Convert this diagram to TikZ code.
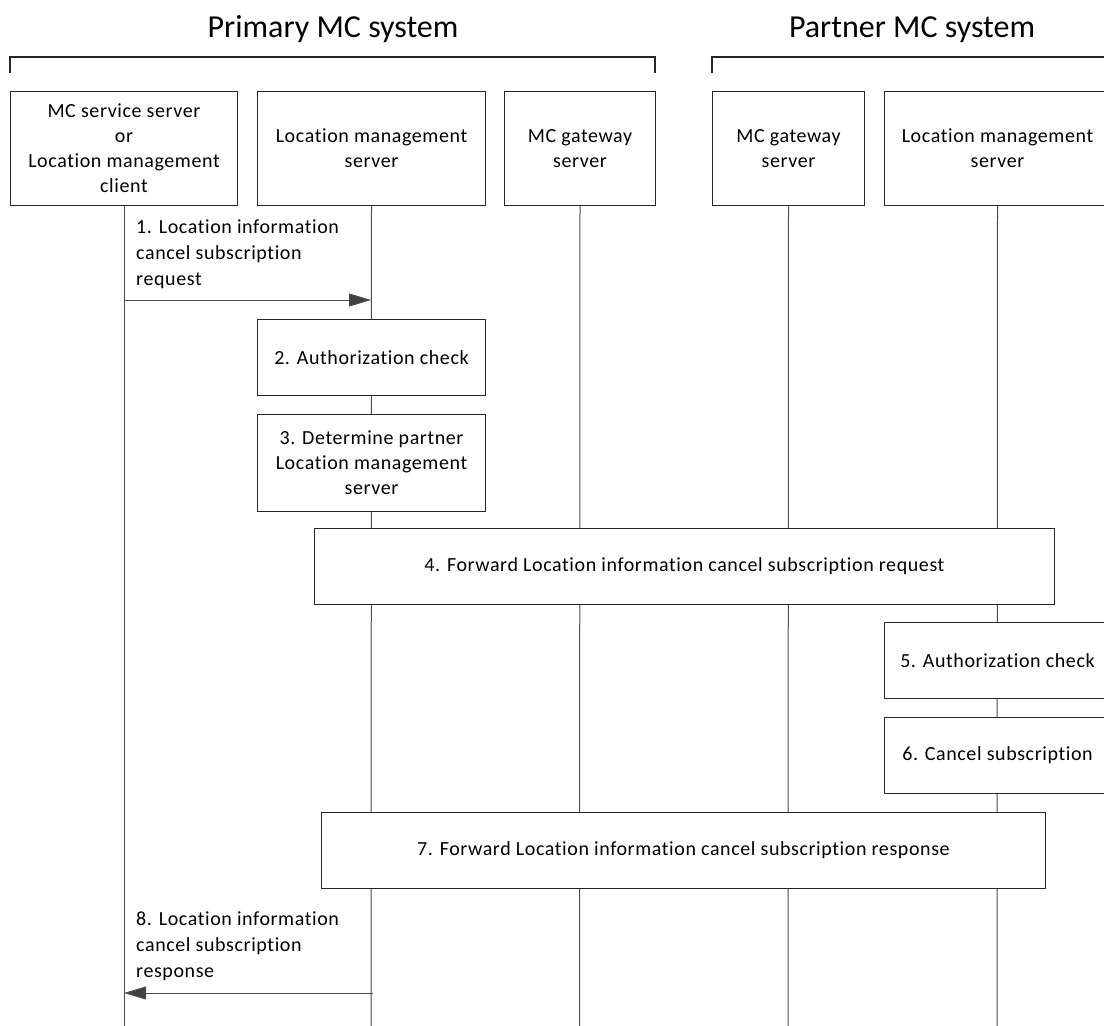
\documentclass[tikz,border=0pt]{standalone}
\usepackage{fontspec}
\setmainfont{Carlito}[Ligatures=NoCommon]
\newfontfamily\bodyfont{Carlito}[LetterSpace=3,Ligatures=NoCommon]
\usetikzlibrary{arrows.meta}
\begin{document}
\begin{tikzpicture}[x=1pt,y=-1pt,
  box/.style={draw=black!85,fill=white,line width=1pt,inner sep=0pt,align=center,
    font=\bodyfont\fontsize{20}{25}\selectfont},
  life/.style={draw=black!70,line width=1pt},
  msg/.style={draw=black!70,line width=1pt,-{Triangle[length=22pt,width=13pt,fill=black!75]}},
  lbl/.style={align=left,inner sep=0pt,anchor=west,font=\bodyfont\fontsize{20}{26}\selectfont},
  title/.style={inner sep=0pt,anchor=base,font=\fontsize{32}{36}\selectfont},
  brk/.style={draw=black!85,line width=1.2pt}]
\useasboundingbox (0,0) rectangle (1104,1026);
\clip (0,0) rectangle (1104,1026);
% titles and brackets
\node[title] (t1) at (333,37) {Primary MC system};
\node[title] (t2) at (912,37) {Partner MC system};
\coordinate (b1a) at (10,73); \coordinate (b1b) at (655,73);
\draw[brk] (b1a) -- ++(0,-16) -| (b1b);
\coordinate (b2a) at (712,73); \coordinate (b2b) at (1120,73);
\draw[brk] (b2a) -- ++(0,-16) -| (b2b);
% lifeline ends
\coordinate (Ae) at (124,1026);
\coordinate (Be) at (371,1026);
\coordinate (Ce) at (579.5,1026);
\coordinate (De) at (788,1026);
\coordinate (Ee) at (997,1026);
% header boxes
\node[box,anchor=north west,minimum width=227,minimum height=114] (A) at (10,91)
  {MC service server\\or\\Location management\\client};
\node[box,anchor=north west,minimum width=228,minimum height=114] (B) at (257,91)
  {Location management\\server};
\node[box,anchor=north west,minimum width=151,minimum height=114] (C) at (504,91)
  {MC gateway\\server};
\node[box,anchor=north west,minimum width=152,minimum height=114] (D) at (712,91)
  {MC gateway\\server};
\node[box,anchor=north west,minimum width=226,minimum height=114] (E) at (884,91)
  {Location management\\server};
% lifelines
\draw[life] (A.south) -- (Ae);
\draw[life] (B.south) -- (Be);
\draw[life] (C.south) -- (Ce);
\draw[life] (D.south) -- (De);
\draw[life] (E.south) -- (Ee);
% message 1
\coordinate (m1a) at (124,300); \coordinate (m1b) at (371,300);
\draw[msg] (m1a) -- (m1b);
\node[lbl] (l1) at (136,254) {1. Location information\\cancel subscription\\request};
% step boxes
\node[box,anchor=north west,minimum width=228,minimum height=76] (s2) at (257,319)
  {2. Authorization check};
\node[box,anchor=north west,minimum width=228,minimum height=97] (s3) at (257,414)
  {3. Determine partner\\Location management\\server};
\node[box,anchor=north west,minimum width=740,minimum height=76] (s4) at (314,528)
  {4. Forward Location information cancel subscription request};
\node[box,anchor=north west,minimum width=226,minimum height=76] (s5) at (884,622)
  {5. Authorization check};
\node[box,anchor=north west,minimum width=226,minimum height=76] (s6) at (884,717)
  {6. Cancel subscription};
\node[box,anchor=north west,minimum width=724,minimum height=76] (s7) at (321,812)
  {7. Forward Location information cancel subscription response};
% message 8
\coordinate (m8a) at (373,993); \coordinate (m8b) at (124,993);
\draw[msg] (m8a) -- (m8b);
\node[lbl] (l8) at (136,946) {8. Location information\\cancel subscription\\response};
\end{tikzpicture}
\end{document}
